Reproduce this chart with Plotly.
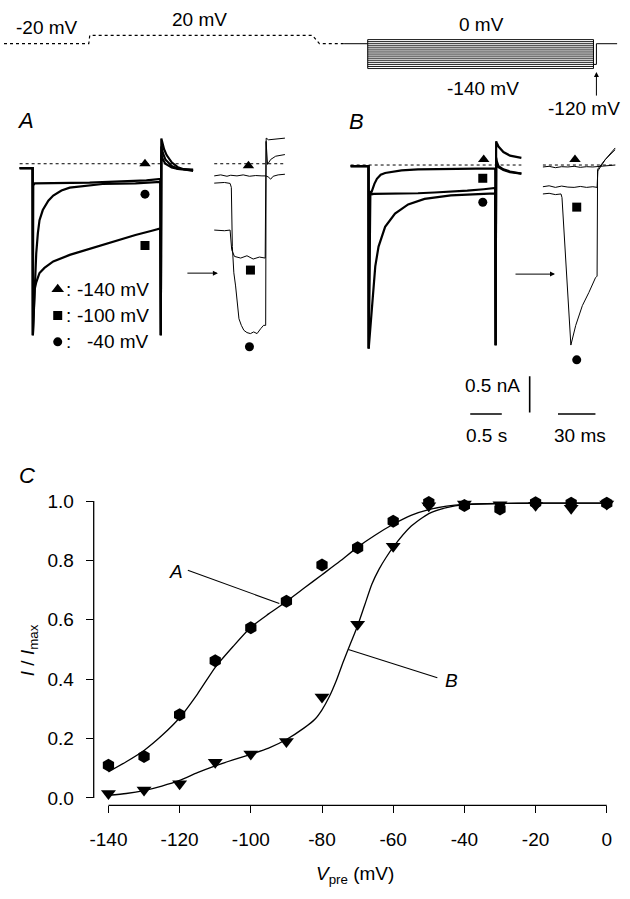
import plotly.graph_objects as go

W, H = 630, 899
FONT = "Liberation Sans, Arial, Helvetica, sans-serif"

# ------------------------------------------------------------------ data
# Panel C : normalised current vs prepulse potential
V_PRE = [-140, -130, -120, -110, -100, -90, -80, -70, -60, -50, -40, -30, -20, -10, 0]
NORM_A = [0.11, 0.14, 0.28, 0.462, 0.573, 0.663, 0.785, 0.843, 0.932, 0.995, 0.985, 0.973, 0.994, 0.993, 0.993]
NORM_B = [0.015, 0.027, 0.048, 0.12, 0.148, 0.19, 0.34, 0.585, 0.848, 0.984, 0.99, 0.988, 0.986, 0.976, 0.99]
FIT_A_V = [-140, -135, -130, -125, -120, -115, -110, -105, -100, -95, -90, -85, -80, -75,
           -70, -65, -60, -55, -50, -45, -40, -30, -20, -10, 0]
FIT_A_Y = [0.088, 0.122, 0.16, 0.21, 0.27, 0.35, 0.44, 0.51, 0.575, 0.62, 0.662, 0.707, 0.752, 0.797,
           0.845, 0.886, 0.922, 0.952, 0.971, 0.983, 0.989, 0.992, 0.993, 0.993, 0.993]
FIT_B_V = [-140, -135, -130, -125, -120, -115, -110, -105, -100, -95, -90, -85, -82, -80, -78,
           -76, -74, -72, -70, -68, -66, -64, -62, -60, -55, -50, -45, -40, -30, -20, -10, 0]
FIT_B_Y = [0.009, 0.015, 0.025, 0.04, 0.059, 0.085, 0.108, 0.128, 0.147, 0.168, 0.197, 0.236, 0.265,
           0.297, 0.34, 0.395, 0.46, 0.52, 0.58, 0.65, 0.72, 0.77, 0.81, 0.845, 0.915, 0.958, 0.978,
           0.988, 0.992, 0.993, 0.993, 0.993]

# Voltage protocol (schematic time units, mV)
PROTO_DOT_T = [0, 8.6, 8.7, 31.3, 32.0, 34.5]
PROTO_DOT_V = [-20, -20, 20, 20, -20, -20]
PROTO_HOLD_T = [34.5, 36.9]
PROTO_HOLD_V = [-20, -20]
PROTO_BOX_T = [36.9, 59.8]
PREPULSE_V = [0, -10, -20, -30, -40, -50, -60, -70, -80, -90, -100, -110, -120, -130, -140]
PROTO_END_T = [59.8, 60.1, 60.1, 62.2]
PROTO_END_V = [-120, -120, -20, -20]

# Panel A, slow time base (s, nA)
A_T_T = [-0.21, -0.004, 0.0, 0.006, 0.03, 0.3, 0.6, 0.9, 1.2, 1.5, 1.8, 2.02, 2.028, 2.036, 2.05,
         2.08, 2.12, 2.2, 2.3, 2.4, 2.54]
A_T_I = [-0.06, -0.06, -2.37, -0.3, -0.27, -0.27, -0.26, -0.26, -0.25, -0.24, -0.23, -0.21, -2.37,
         0.35, 0.30, 0.20, 0.12, 0.02, -0.05, -0.08, -0.10]
A_C_T = [-0.21, -0.004, 0.0, 0.012, 0.027, 0.053, 0.079, 0.105, 0.157, 0.245, 0.323, 0.453, 0.584,
         0.844, 1.105, 1.626, 2.02, 2.028, 2.036, 2.06, 2.1, 2.2, 2.3, 2.54]
A_C_I = [-0.06, -0.06, -2.37, -2.14, -1.69, -1.24, -0.96, -0.78, -0.64, -0.51, -0.44, -0.37, -0.33,
         -0.30, -0.28, -0.27, -0.25, -2.37, 0.24, 0.15, 0.06, -0.03, -0.07, -0.09]
A_S_T = [-0.21, -0.004, 0.0, 0.012, 0.027, 0.053, 0.105, 0.183, 0.323, 0.584, 0.844, 1.105, 1.365,
         1.626, 1.886, 2.02, 2.028, 2.036, 2.06, 2.1, 2.2, 2.3, 2.54]
A_S_I = [-0.06, -0.06, -2.37, -1.92, -1.74, -1.64, -1.51, -1.44, -1.35, -1.26, -1.19, -1.12, -1.05,
         -0.985, -0.926, -0.894, -2.37, 0.12, 0.06, 0.0, -0.05, -0.07, -0.08]

# Panel A, fast time base (ms, nA)
AI_T_T = [-13.2, -8, -3, 0, 5, 10, 15, 20, 25, 28.2, 30, 32, 34, 38, 43.4]
AI_T_I = [-0.168, -0.154, -0.173, -0.159, -0.168, -0.154, -0.173, -0.163, -0.168, -0.168, -0.182,
          -0.213, -0.173, -0.154, -0.145]
AI_S_T = [-13.2, -5, -0.5, 0.8, 3, 8, 13, 18, 23, 27.6, 28.3, 29.5, 32, 36, 43.4]
AI_S_I = [-0.917, -0.926, -0.917, -1.19, -1.281, -1.304, -1.272, -1.317, -1.29, -1.304, 0.309,
          -0.009, 0.059, 0.104, 0.127]
AI_C_T = [-13.2, -5, -0.5, 0.5, 1.3, 2.5, 3.9, 5.3, 6.6, 8.5, 10.5, 13, 15.8, 18.4, 21.1, 24, 26.3,
          28.0, 28.4, 30.3, 36, 43.4]
AI_C_I = [-0.268, -0.259, -0.272, -0.327, -1.144, -1.508, -1.689, -1.962, -2.143, -2.234, -2.302,
          -2.334, -2.348, -2.325, -2.348, -2.28, -2.234, -2.234, 0.354, 0.331, 0.345, 0.354]

# Panel B, slow time base (s, nA)
B_T_T = [-0.286, -0.003, 0.0, 0.02, 0.035, 0.06, 0.09, 0.13, 0.19, 0.26, 0.521, 0.781, 1.302,
         1.823, 2.005, 2.012, 2.02, 2.031, 2.057, 2.135, 2.24, 2.42]
B_T_I = [-0.014, -0.014, -2.535, -0.355, -0.40, -0.33, -0.26, -0.19, -0.135, -0.11, -0.073, -0.059,
         -0.05, -0.046, -0.046, -2.49, 0.327, 0.304, 0.255, 0.18, 0.13, 0.099]
B_M_T = [-0.286, -0.003, 0.0, 0.026, 0.078, 0.26, 0.521, 0.781, 1.042, 1.302, 1.563, 1.823, 2.005,
         2.012, 2.02, 2.031, 2.057, 2.135, 2.24, 2.42]
B_M_I = [-0.014, -0.014, -2.535, -0.41, -0.40, -0.40, -0.395, -0.39, -0.38, -0.37, -0.355, -0.335,
         -0.318, -2.49, 0.10, 0.05, -0.014, -0.06, -0.09, -0.118]
B_L_T = [-0.286, -0.003, 0.0, 0.052, 0.104, 0.156, 0.26, 0.417, 0.625, 0.885, 1.302, 1.823, 2.005,
         2.012, 2.02, 2.031, 2.057, 2.135, 2.24, 2.42]
B_L_I = [-0.014, -0.014, -2.535, -1.898, -1.40, -1.127, -0.854, -0.672, -0.545, -0.468, -0.42,
         -0.40, -0.391, -2.49, 0.05, 0.0, -0.03, -0.07, -0.10, -0.118]

# Panel B, fast time base (ms, nA)
BI_T_T = [-15, -10, -5, 0, 5, 10, 15, 20, 25, 28.4, 32, 36, 42.9]
BI_T_I = [-0.027, -0.018, -0.037, -0.023, -0.027, -0.018, -0.032, -0.023, -0.027, -0.023, -0.018,
          -0.009, 0.0]
BI_M_T = [-15, -10, -5, 0, 5, 10, 15, 20, 25, 28.4, 29.0, 35, 42.9]
BI_M_I = [-0.30, -0.287, -0.309, -0.291, -0.305, -0.309, -0.296, -0.309, -0.30, -0.309, -0.082,
          0.077, 0.236]
BI_L_T = [-15, -10, -5, -0.5, 0.3, 7.4, 11.3, 16.6, 21.8, 27.1, 28.4, 28.8, 35, 42.9]
BI_L_I = [-0.40, -0.391, -0.409, -0.40, -0.45, -2.489, -2.217, -1.944, -1.763, -1.559, -1.536,
          -0.059, 0.077, 0.213]

# trace-identifying symbols (time, current)
A_MARK_T = [1.777, 1.777, 1.777]
A_MARK_I = [0.0, -1.13, -0.42]
AI_MARK_T = [14.2, 15.8, 15.0]
AI_MARK_I = [-0.027, -1.47, -2.53]
B_MARK_T = [1.823, 1.808, 1.808]
B_MARK_I = [0.076, -0.183, -0.514]
BI_MARK_T = [10.7, 12.1, 12.1]
BI_MARK_I = [0.076, -0.582, -2.693]
LEGEND_V = ["-140 mV", "-100 mV", "-40 mV"]
SYMBOLS = ["triangle-up", "square", "circle"]

SCALE_S = 0.5      # s
SCALE_NA = 0.5     # nA
SCALE_MS = 30      # ms

# ------------------------------------------------------------------ helpers
def xdom(p0, p1):
    return [p0 / W, p1 / W]

def ydom(top, bot):
    return [1 - bot / H, 1 - top / H]

def xrng(p0, p1, zero_px, per):
    return [(p0 - zero_px) / per, (p1 - zero_px) / per]

def yrng(top, bot, zero_px, per):
    return [(zero_px - bot) / per, (zero_px - top) / per]

def px(x, y):
    return x / W, 1 - y / H

fig = go.Figure()

# axis geometry (pixel placement)
PX_PER_S, PX_PER_MS, PX_PER_NA = 64.0, 1.267, 73.4
geo = {
    # name: (xpx0, xpx1, x_zero_px, x_scale, ytop, ybot, y_zero_px, y_scale)
    "P":  (0, 630, 0, 10.0, 0, 75, 30, 0.21),
    "A":  (12, 196, 29.3, PX_PER_S, 115, 345, 156, PX_PER_NA),
    "AI": (205, 292, 230, PX_PER_MS, 115, 355, 156, PX_PER_NA),
    "B":  (345, 545, 370, PX_PER_S, 115, 420, 157.3, PX_PER_NA),
    "BI": (546, 628, 565.7, PX_PER_MS, 115, 420, 157.3, PX_PER_NA),
}
axid = {"P": 2, "A": 3, "AI": 4, "B": 5, "BI": 6}
for k, (x0, x1, xz, xs, yt, yb, yz, ys) in geo.items():
    n = axid[k]
    fig.layout[f"xaxis{n}"] = dict(domain=xdom(x0, x1), range=xrng(x0, x1, xz, xs),
                                   visible=False, anchor=f"y{n}", fixedrange=True)
    fig.layout[f"yaxis{n}"] = dict(domain=ydom(yt, yb), range=yrng(yt, yb, yz, ys),
                                   visible=False, anchor=f"x{n}", fixedrange=True)

def line(x, y, n, width=1.0, dash="solid", shape="linear"):
    fig.add_trace(go.Scatter(x=x, y=y, xaxis=f"x{n}", yaxis=f"y{n}", mode="lines",
                             line=dict(color="black", width=width, dash=dash, shape=shape),
                             showlegend=False, hoverinfo="skip", cliponaxis=False))

# ---- protocol
line(PROTO_DOT_T, PROTO_DOT_V, 2, 1.2, "dot")
line(PROTO_HOLD_T, PROTO_HOLD_V, 2, 1.0)
for v in PREPULSE_V:
    line(PROTO_BOX_T, [v, v], 2, 0.9)
for t in PROTO_BOX_T:
    line([t, t], [PREPULSE_V[0], PREPULSE_V[-1]], 2, 1.0)
line(PROTO_END_T, PROTO_END_V, 2, 1.0)

# ---- panel A
line([A_T_T[0], A_T_T[-1]], [0, 0], 3, 1.0, "dot")
for tt, ii in [(A_T_T, A_T_I), (A_C_T, A_C_I), (A_S_T, A_S_I)]:
    line(tt, ii, 3, 2.2)
line([AI_T_T[0], AI_T_T[-1]], [0, 0], 4, 1.0, "dot")
for tt, ii in [(AI_T_T, AI_T_I), (AI_S_T, AI_S_I), (AI_C_T, AI_C_I)]:
    line(tt, ii, 4, 1.0)

# ---- panel B
line([B_T_T[0], B_T_T[-1]], [0, 0], 5, 1.0, "dot")
for tt, ii in [(B_T_T, B_T_I), (B_M_T, B_M_I), (B_L_T, B_L_I)]:
    line(tt, ii, 5, 2.2)
line([BI_T_T[0], BI_T_T[-1]], [0, 0], 6, 1.0, "dot")
for tt, ii in [(BI_T_T, BI_T_I), (BI_M_T, BI_M_I), (BI_L_T, BI_L_I)]:
    line(tt, ii, 6, 1.0)

# identifying symbols
for (mt, mi, n) in [(A_MARK_T, A_MARK_I, 3), (AI_MARK_T, AI_MARK_I, 4),
                    (B_MARK_T, B_MARK_I, 5), (BI_MARK_T, BI_MARK_I, 6)]:
    fig.add_trace(go.Scatter(x=mt, y=mi, xaxis=f"x{n}", yaxis=f"y{n}", mode="markers",
                             marker=dict(symbol=SYMBOLS, size=[10, 9, 9], color="black",
                                         opacity=1, line=dict(width=0)),
                             showlegend=False, hoverinfo="skip", cliponaxis=False))

# legend symbols inside panel A (placed in panel A units)
LEG_Y_PX = [283.3, 310.0, 336.7]
leg_t = [(54.5 - 29.3) / PX_PER_S] * 3
leg_i = [(156 - y) / PX_PER_NA for y in LEG_Y_PX]
fig.add_trace(go.Scatter(x=leg_t, y=leg_i, xaxis="x3", yaxis="y3", mode="markers",
                         marker=dict(symbol=SYMBOLS, size=[11, 9, 9], color="black",
                                     opacity=1, line=dict(width=0)),
                         showlegend=False, hoverinfo="skip", cliponaxis=False))

# ---- panel C
fig.add_trace(go.Scatter(x=FIT_A_V, y=FIT_A_Y, mode="lines",
                         line=dict(color="black", width=1.3, shape="spline", smoothing=0.6),
                         showlegend=False, hoverinfo="skip", cliponaxis=False))
fig.add_trace(go.Scatter(x=FIT_B_V, y=FIT_B_Y, mode="lines",
                         line=dict(color="black", width=1.3, shape="spline", smoothing=0.6),
                         showlegend=False, hoverinfo="skip", cliponaxis=False))
fig.add_trace(go.Scatter(x=V_PRE, y=NORM_A, mode="markers",
                         marker=dict(symbol="hexagon", size=13, color="black", opacity=1),
                         showlegend=False, hoverinfo="skip", cliponaxis=False))
fig.add_trace(go.Scatter(x=V_PRE, y=NORM_B, mode="markers",
                         marker=dict(symbol="triangle-down", size=13, color="black", opacity=1),
                         showlegend=False, hoverinfo="skip", cliponaxis=False))

C_X0, C_X1, C_YT, C_YB = 91, 611.7, 498.3, 807
C_XZERO, C_XS = 611.5, 3.611
C_YZERO, C_YS = 799.5, 301.2
fig.update_layout(
    xaxis=dict(domain=xdom(C_X0, C_X1), range=xrng(C_X0, C_X1, C_XZERO, C_XS),
               tickvals=V_PRE[::2], ticktext=[str(v) for v in V_PRE[::2]],
               ticks="outside", ticklen=7, tickwidth=1.3, tickcolor="black",
               showline=False, showgrid=False, zeroline=False, ticklabelstandoff=10,
               tickfont=dict(size=19, color="black", family=FONT), anchor="y", fixedrange=True),
    yaxis=dict(domain=ydom(C_YT, C_YB), range=yrng(C_YT, C_YB, C_YZERO, C_YS),
               tickvals=[0, 0.2, 0.4, 0.6, 0.8, 1.0],
               ticktext=["0.0", "0.2", "0.4", "0.6", "0.8", "1.0"],
               ticks="outside", ticklen=7, tickwidth=1.3, tickcolor="black",
               showline=False, showgrid=False, zeroline=False, ticklabelstandoff=8,
               tickfont=dict(size=19, color="black", family=FONT), anchor="x", fixedrange=True),
)

shapes = [
    dict(type="line", xref="x domain", yref="y", x0=0, x1=0, y0=0, y1=1,
         line=dict(color="black", width=1.3)),
    dict(type="line", xref="x", yref="y domain", x0=-140, x1=0, y0=0, y1=0,
         line=dict(color="black", width=1.3)),
    # pointer lines for curve labels
    dict(type="line", xref="x", yref="y", x0=-117.7, y0=0.767, x1=-92, y1=0.655,
         line=dict(color="black", width=1.1)),
    dict(type="line", xref="x", yref="y", x0=-47.6, y0=0.405, x1=-72.6, y1=0.50,
         line=dict(color="black", width=1.1)),
]

# scale bars (drawn in panel B units)
bar_y = (157.3 - 410) / PX_PER_NA
t_bar0 = (473 - 370) / PX_PER_S
shapes.append(dict(type="line", xref="x5", yref="y5", x0=t_bar0, x1=t_bar0 + SCALE_S,
                   y0=bar_y, y1=bar_y, line=dict(color="black", width=1.6)))
t_v = (533.3 - 370) / PX_PER_S
i_v0 = (157.3 - 408.3) / PX_PER_NA
shapes.append(dict(type="line", xref="x5", yref="y5", x0=t_v, x1=t_v,
                   y0=i_v0, y1=i_v0 + SCALE_NA, line=dict(color="black", width=1.6)))
ms0 = (562 - 565.7) / PX_PER_MS
shapes.append(dict(type="line", xref="x6", yref="y6", x0=ms0, x1=ms0 + SCALE_MS,
                   y0=bar_y, y1=bar_y, line=dict(color="black", width=1.6)))
fig.update_layout(shapes=shapes)

# ------------------------------------------------------------------ text
ann = []

def text(x, y, s, size=19, italic=False, xanchor="center", yanchor="middle", angle=0):
    xx, yy = px(x, y)
    ann.append(dict(x=xx, y=yy, xref="paper", yref="paper", text=s, showarrow=False,
                    xanchor=xanchor, yanchor=yanchor, textangle=angle,
                    font=dict(size=size, color="black", family=FONT,
                              style="italic" if italic else "normal")))

text(44, 18, "-20 mV")
text(198, 10, "20 mV")
text(484, 15, "0 mV")
text(486, 80, "-140 mV")
text(588, 100, "-120 mV")
text(22, 112, "A", size=22, italic=True)
text(358, 113, "B", size=22, italic=True)
text(23, 472, "C", size=22, italic=True)
for y, lab in zip(LEG_Y_PX, LEGEND_V):
    text(61, y, ":", xanchor="left")
    text(149, y, lab, xanchor="right")
text(496, 381, "0.5 nA")
text(489, 432, "0.5 s")
text(584, 432, "30 ms")
text(356, 878, "<i>V</i><sub>pre</sub> (mV)")
text(25, 650, "<i>I</i> / <i>I</i><sub>max</sub>", angle=-90)

# curve labels in panel C (data coords)
ann.append(dict(x=-121, y=0.763, xref="x", yref="y", text="A", showarrow=False,
                font=dict(size=19, color="black", family=FONT, style="italic")))
ann.append(dict(x=-43.7, y=0.395, xref="x", yref="y", text="B", showarrow=False,
                font=dict(size=19, color="black", family=FONT, style="italic")))

# arrows
def arrow(xh, yh, xt, yt):
    xx, yy = px(xh, yh)
    ann.append(dict(x=xx, y=yy, xref="paper", yref="paper", ax=xt - xh, ay=yt - yh,
                    axref="pixel", ayref="pixel", text="", showarrow=True,
                    arrowhead=2, arrowsize=1.0, arrowwidth=1.0, arrowcolor="black"))

arrow(217, 267, 185, 267)
arrow(559, 268, 518, 268)
arrow(601, 63, 601, 88)

fig.update_layout(annotations=ann, width=W, height=H,
                  margin=dict(l=0, r=0, t=0, b=0),
                  paper_bgcolor="white", plot_bgcolor="white",
                  font=dict(family=FONT, color="black"), showlegend=False)

fig.write_html("out.html", config={"displayModeBar": False},
               post_script="document.body.style.margin='0';"
                           "document.body.style.padding='0';"
                           "document.documentElement.style.overflow='hidden';")
